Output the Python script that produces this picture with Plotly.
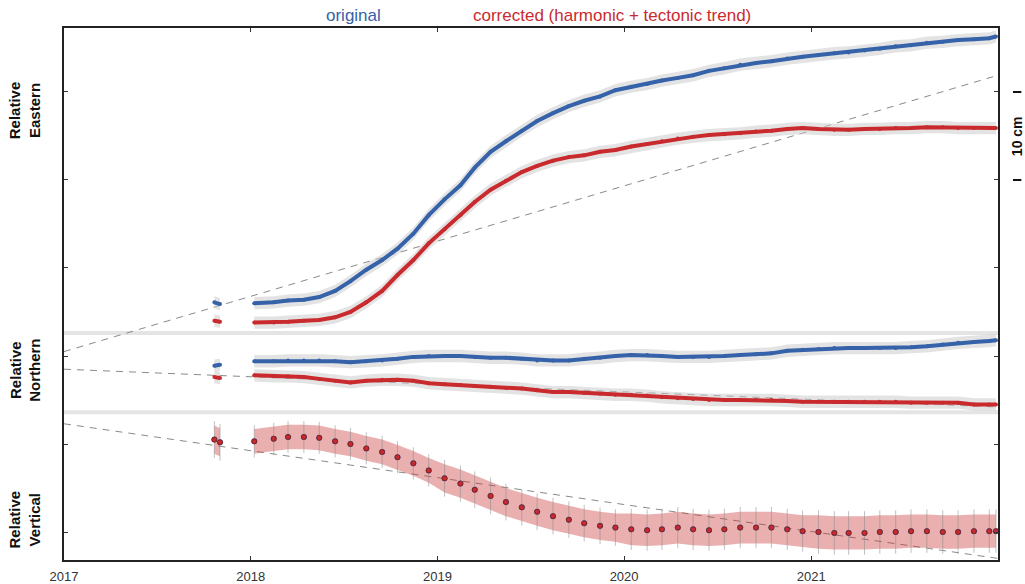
import plotly.graph_objects as go

# ---- time axis: two short campaign days in late 2017, then continuous monthly samples
early_dates = ["2017-10-22", "2017-11-02"]
month_dates = [f"{y}-{m:02d}-15" for y in range(2018, 2022) for m in range(1, 13)] + ["2021-12-28"]
month_dates[0] = "2018-01-08"

# ---- displacement values (cm, stacked with offsets for display)
east_orig_early = [26.1, 25.9]
east_orig = [26.0, 26.1, 26.3, 26.4, 26.7, 27.4, 28.5, 29.8, 30.9, 32.2, 33.9, 36.0,
             37.8, 39.4, 41.4, 43.2, 44.4, 45.6, 46.7, 47.6, 48.4, 49.0, 49.5, 50.2,
             50.6, 50.9, 51.3, 51.6, 51.9, 52.4, 52.7, 53.1, 53.3, 53.5, 53.8, 54.0,
             54.2, 54.4, 54.5, 54.7, 54.9, 55.2, 55.3, 55.6, 55.7, 55.9, 56.0, 56.1,
             56.3]

east_corr_early = [24.0, 23.9]
east_corr = [23.8, 23.8, 23.9, 24.0, 24.1, 24.4, 25.0, 26.1, 27.4, 29.2, 30.9, 32.8,
             34.4, 36.0, 37.5, 38.9, 39.9, 40.9, 41.6, 42.2, 42.6, 42.8, 43.2, 43.4,
             43.8, 44.1, 44.4, 44.7, 44.9, 45.1, 45.2, 45.3, 45.5, 45.6, 45.8, 45.9,
             45.8, 45.7, 45.7, 45.8, 45.8, 45.9, 45.9, 46.0, 46.0, 45.9, 45.9, 45.9,
             45.9]

north_orig_early = [18.9, 19.0]
north_orig = [19.4, 19.4, 19.5, 19.5, 19.5, 19.4, 19.3, 19.4, 19.5, 19.7, 19.9, 20.0,
              20.0, 20.0, 19.9, 19.8, 19.8, 19.7, 19.5, 19.5, 19.5, 19.7, 19.8, 20.0,
              20.1, 20.1, 20.0, 19.9, 19.9, 19.9, 20.0, 20.1, 20.2, 20.3, 20.6, 20.7,
              20.8, 20.9, 20.9, 20.9, 20.9, 20.9, 21.0, 21.1, 21.3, 21.5, 21.6, 21.7,
              21.8]

north_corr_early = [17.6, 17.5]
north_corr = [17.8, 17.7, 17.7, 17.6, 17.4, 17.2, 17.0, 17.2, 17.3, 17.3, 17.2, 16.9,
              16.8, 16.7, 16.6, 16.5, 16.4, 16.3, 16.1, 15.9, 15.9, 15.8, 15.7, 15.6,
              15.6, 15.5, 15.3, 15.2, 15.1, 15.0, 15.0, 15.0, 15.0, 15.0, 14.9, 14.8,
              14.8, 14.8, 14.8, 14.8, 14.8, 14.8, 14.7, 14.7, 14.7, 14.7, 14.5, 14.5,
              14.5]

vert_early = [10.5, 10.2]
vert = [10.3, 10.6, 10.8, 10.8, 10.7, 10.3, 10.0, 9.5, 9.1, 8.5, 7.8, 7.0,
        6.1, 5.5, 4.8, 4.1, 3.4, 2.8, 2.3, 1.8, 1.4, 1.0, 0.7, 0.5,
        0.3, 0.2, 0.3, 0.5, 0.3, 0.2, 0.3, 0.5, 0.5, 0.5, 0.3, 0.1,
        0.0, -0.1, -0.1, -0.1, 0.0, 0.0, 0.1, 0.1, 0.0, 0.0, 0.1, 0.1,
        0.1]
vert_spread_early = [1.6, 1.6]
vert_spread = [1.4] * 12 + [1.6] * 12 + [1.8] * 12 + [1.9] * 13

horiz_sigma = 0.7  # daily formal error of horizontal components (cm)

# linear tectonic trends (value at start and end of the window)
trend_x = ["2017-01-01", "2022-01-01"]
east_trend = [20.5, 51.9]
north_trend = [18.5, 14.2]
vert_trend = [12.3, -3.0]

panel_breaks = [22.6, 13.6]
year_ticks = [2017, 2018, 2019, 2020, 2021]
y_ticks = [0, 10, 20, 30, 40, 50]

BLUE = "#3562a8"
RED = "#c92a2e"
HALO = "rgba(200,200,200,0.5)"
FONT = "Liberation Sans, Arial"

fig = go.Figure()


def halo(xs, ys, err, color):
    fig.add_trace(go.Scatter(
        x=xs + xs[::-1],
        y=[v + e for v, e in zip(ys, err)] + [v - e for v, e in zip(ys, err)][::-1],
        fill="toself", fillcolor=color, line=dict(width=0),
        mode="lines", hoverinfo="skip", showlegend=False))


def series(xs, ys, color, width=4, size=4):
    fig.add_trace(go.Scatter(
        x=xs, y=ys, mode="lines+markers",
        line=dict(color=color, width=width),
        marker=dict(color=color, size=size),
        showlegend=False))


# trends
for tr in (east_trend, north_trend, vert_trend):
    fig.add_trace(go.Scatter(x=trend_x, y=tr, mode="lines",
                             line=dict(color="#8a8a8a", width=1, dash="7px,6px"),
                             hoverinfo="skip", showlegend=False))

# horizontal components
for early_v, main_v, col in [(east_orig_early, east_orig, BLUE),
                             (east_corr_early, east_corr, RED),
                             (north_orig_early, north_orig, BLUE),
                             (north_corr_early, north_corr, RED)]:
    halo(early_dates, early_v, [horiz_sigma] * len(early_v), HALO)
    halo(month_dates, main_v, [horiz_sigma] * len(main_v), HALO)
    series(early_dates, early_v, col)
    series(month_dates, main_v, col)

# vertical component: scatter cloud with error whiskers
halo(early_dates, vert_early, vert_spread_early, "rgba(200,45,45,0.38)")
halo(month_dates, vert, vert_spread, "rgba(200,45,45,0.38)")
vx = early_dates + month_dates
vy = vert_early + vert
vs = vert_spread_early + vert_spread
fig.add_trace(go.Scatter(
    x=vx, y=vy, mode="markers",
    marker=dict(color=BLUE, size=6),
    showlegend=False))
fig.add_trace(go.Scatter(
    x=vx, y=vy, mode="markers",
    marker=dict(color=RED, size=5, line=dict(color="#7a1a1a", width=0.8)),
    error_y=dict(type="data", array=[s * 1.3 for s in vs], color="rgba(140,140,140,0.55)",
                 thickness=1, width=0),
    showlegend=False))

shapes = []
for yb in panel_breaks:
    shapes.append(dict(type="line", xref="paper", x0=0, x1=1, yref="y", y0=yb, y1=yb,
                       line=dict(color="#e4e4e4", width=4), layer="below"))
# 10 cm scale bar on the right
for yb in (40, 50):
    shapes.append(dict(type="line", xref="paper", x0=1.016, x1=1.025, yref="y", y0=yb, y1=yb,
                       line=dict(color="#111", width=2)))

annotations = [
    dict(text="original", x=0.31, y=1.0, xref="paper", yref="paper", xanchor="center",
         yanchor="bottom", yshift=1, showarrow=False, font=dict(color=BLUE, size=17, family=FONT)),
    dict(text="corrected (harmonic + tectonic trend)", x=0.587, y=1.0, xref="paper", yref="paper",
         xanchor="center", yanchor="bottom", yshift=1, showarrow=False,
         font=dict(color=RED, size=17, family=FONT)),
    dict(text="<b>10 cm</b>", x=1.0205, xref="paper", xanchor="center", y=45, yref="y",
         textangle=-90, showarrow=False, font=dict(color="#111", size=14, family=FONT)),
]
for label, yv in [("Relative<br>Eastern", 47.9), ("Relative<br>Northern", 18.4), ("Relative<br>Vertical", 1.4)]:
    annotations.append(dict(text="<b>" + label + "</b>", x=-0.042, xref="paper", xanchor="center",
                            y=yv, yref="y", textangle=-90, showarrow=False, align="center",
                            font=dict(color="#111", size=15, family=FONT)))

fig.update_layout(
    width=1025, height=584,
    margin=dict(l=64, r=27, t=28, b=24, autoexpand=False),
    paper_bgcolor="white", plot_bgcolor="white",
    shapes=shapes, annotations=annotations,
    xaxis=dict(type="date", range=["2017-01-01", "2022-01-01"],
               tickvals=[f"{y}-01-01" for y in year_ticks], ticktext=[str(y) for y in year_ticks],
               ticks="inside", ticklen=4, tickcolor="#333", mirror="ticks",
               showline=True, linecolor="#222", linewidth=1.5, showgrid=False, zeroline=False,
               automargin=False, ticklabelstandoff=4,
               tickfont=dict(size=13, color="#333", family=FONT)),
    yaxis=dict(range=[-3.18, 57.27], tickvals=y_ticks, showticklabels=False, automargin=False,
               ticks="inside", ticklen=4, tickcolor="#333", mirror="ticks",
               showline=True, linecolor="#222", linewidth=1.5, showgrid=False, zeroline=False),
)

fig.write_html("out.html")
